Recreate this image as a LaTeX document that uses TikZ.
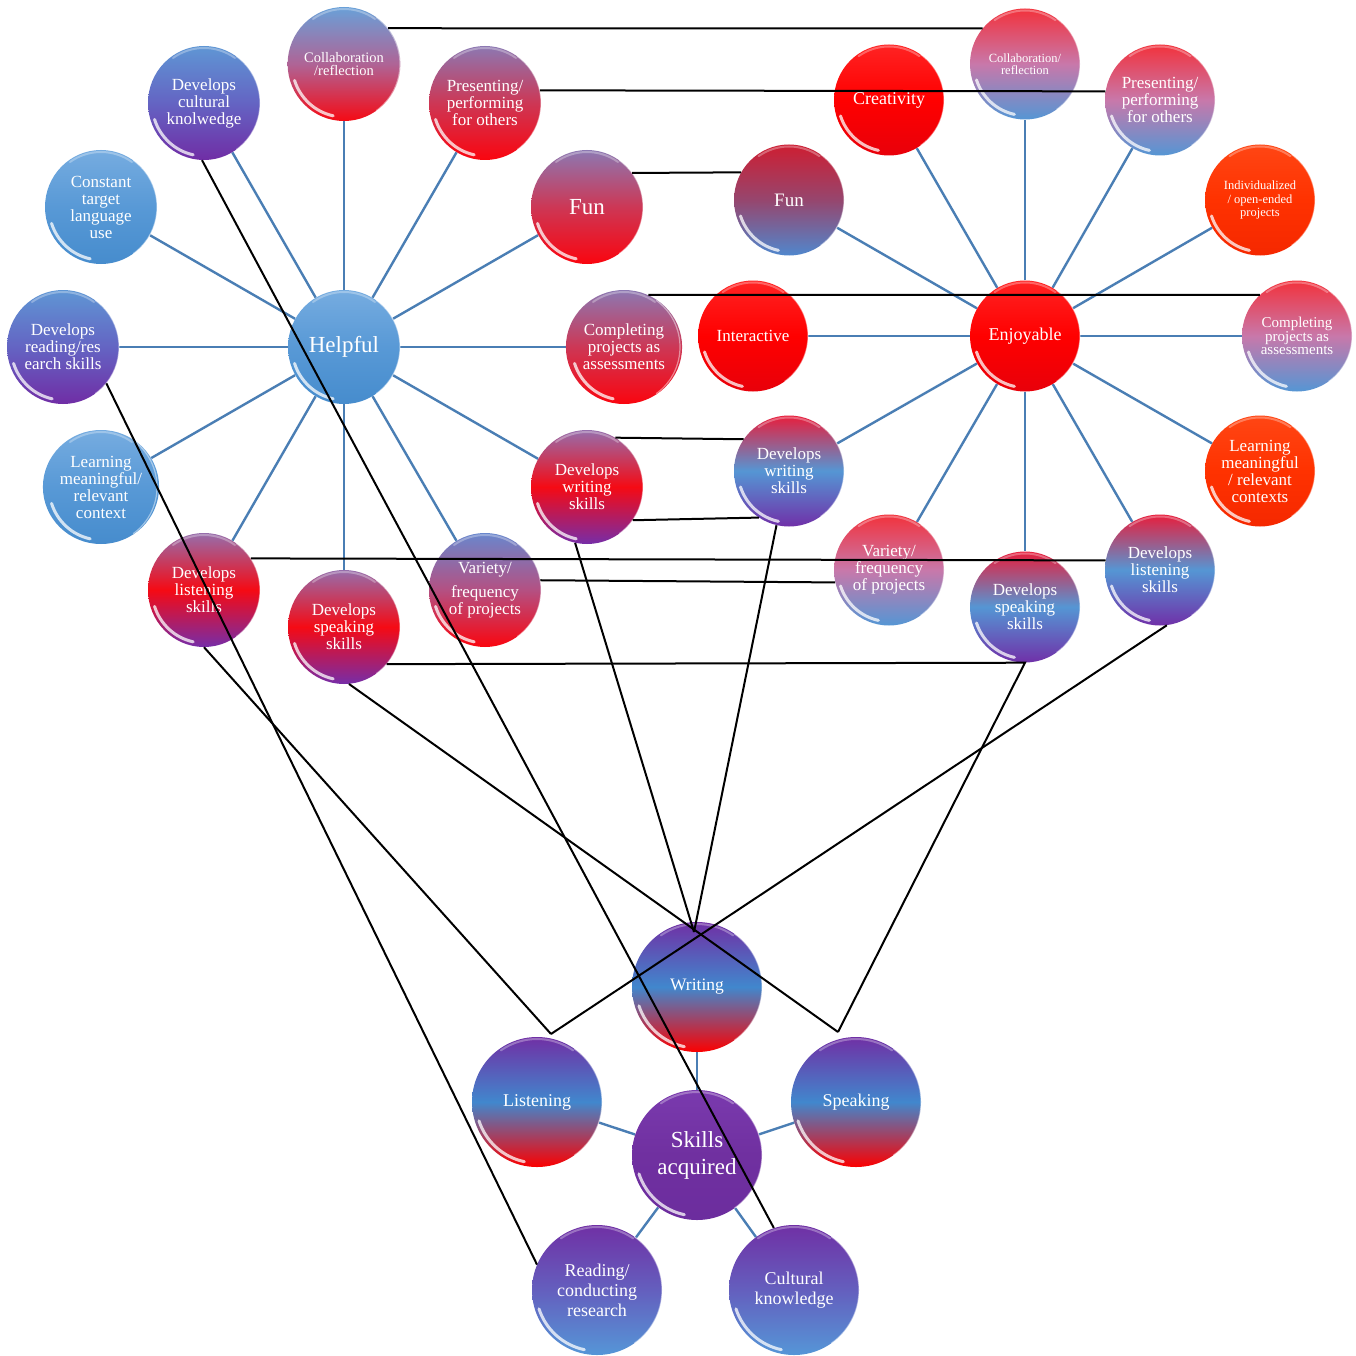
\documentclass[tikz,border=0pt]{standalone}
\usepackage{fontspec}
\setmainfont{Liberation Serif}
\usetikzlibrary{shapes.geometric,backgrounds,calc}
\definecolor{edgeblue}{RGB}{74,126,180}
\definecolor{bluT}{RGB}{118,172,224}\definecolor{bluM}{RGB}{88,153,214}\definecolor{bluB}{RGB}{70,140,205}
\definecolor{brT}{RGB}{105,160,216}\definecolor{brM}{RGB}{175,100,150}\definecolor{brB}{RGB}{245,10,20}
\definecolor{bpT}{RGB}{95,150,212}\definecolor{bpM}{RGB}{100,100,195}\definecolor{bpB}{RGB}{112,45,165}
\definecolor{mrT}{RGB}{140,120,178}\definecolor{mrM}{RGB}{205,55,85}\definecolor{mrB}{RGB}{250,5,15}
\definecolor{vrT}{RGB}{105,135,205}\definecolor{vrM}{RGB}{180,80,130}\definecolor{vrB}{RGB}{250,5,15}
\definecolor{mrpT}{RGB}{150,110,172}\definecolor{mrpM}{RGB}{245,10,20}\definecolor{mrpB}{RGB}{118,45,168}
\definecolor{redT}{RGB}{255,35,35}\definecolor{redM}{RGB}{255,0,0}\definecolor{redB}{RGB}{232,0,10}
\definecolor{orT}{RGB}{255,70,20}\definecolor{orM}{RGB}{255,50,0}\definecolor{orB}{RGB}{245,40,0}
\definecolor{rbT}{RGB}{242,50,60}\definecolor{rbM}{RGB}{200,120,170}\definecolor{rbB}{RGB}{85,150,212}
\definecolor{frT}{RGB}{205,30,50}\definecolor{frM}{RGB}{150,70,110}\definecolor{frB}{RGB}{80,135,205}
\definecolor{rbpT}{RGB}{232,30,60}\definecolor{rbpM}{RGB}{85,150,212}\definecolor{rbpB}{RGB}{112,48,168}
\definecolor{pbrT}{RGB}{112,48,165}\definecolor{pbrM}{RGB}{65,135,205}\definecolor{pbrB}{RGB}{252,0,0}
\definecolor{purT}{RGB}{122,58,174}\definecolor{purM}{RGB}{112,48,160}\definecolor{purB}{RGB}{108,45,158}
\definecolor{pbT}{RGB}{112,48,165}\definecolor{pbM}{RGB}{100,95,190}\definecolor{pbB}{RGB}{85,150,215}
\newcommand\myfs[2]{\fontsize{#1}{#2}\selectfont}
\begin{document}
\begin{tikzpicture}[x=1pt,y=1pt,
  bub/.style={ellipse, minimum width=112pt, minimum height=114pt, inner sep=0pt, align=center, text=white},
  rbub/.style={bub, minimum width=110pt, minimum height=111pt},
  bbub/.style={bub, minimum width=130pt, minimum height=130pt},
  gBlue/.style={top color=bluT, bottom color=bluB, middle color=bluM},
  gBR/.style={top color=brT, bottom color=brB, middle color=brM},
  gBP/.style={top color=bpT, bottom color=bpB, middle color=bpM},
  gMR/.style={top color=mrT, bottom color=mrB, middle color=mrM},
  gVR/.style={top color=vrT, bottom color=vrB, middle color=vrM},
  gMRP/.style={top color=mrpT, bottom color=mrpB, middle color=mrpM},
  gRed/.style={top color=redT, bottom color=redB, middle color=redM},
  gOr/.style={top color=orT, bottom color=orB, middle color=orM},
  gRB/.style={top color=rbT, bottom color=rbB, middle color=rbM},
  gFR/.style={top color=frT, bottom color=frB, middle color=frM},
  gRBP/.style={top color=rbpT, bottom color=rbpB, middle color=rbpM},
  gPBR/.style={top color=pbrT, bottom color=pbrB, middle color=pbrM},
  gPur/.style={top color=purT, bottom color=purB, middle color=purM},
  gPB/.style={top color=pbT, bottom color=pbB, middle color=pbM},
  edge/.style={draw=edgeblue, line width=2.4pt},
  blk/.style={draw=black, line width=2pt},
  gloss/.style={draw=white, line width=3pt, opacity=.75, line cap=round},
  rim/.style={draw=white, line width=1.2pt, opacity=.45},
  toprim/.style={draw=white, line width=2pt, opacity=.3, line cap=round},
  f17/.style={font=\myfs{17}{17}}
]
\useasboundingbox (0,0) rectangle (1355,-1356);
% ---------- left cluster ----------
\node[bub,gBlue,font=\myfs{23}{23}] (helpful) at (344,-347) {Helpful};
\node[bub,gBR,font=\myfs{14.5}{13}] (collabL) at (344,-64) {Collaboration\\/reflection};
\node[bub,gBP,f17] (cultL) at (204,-103) {Develops\\cultural\\knolwedge};
\node[bub,gMR,f17] (presL) at (485,-103) {Presenting/\\performing\\for others};
\node[bub,gBlue,f17] (constant) at (101,-207) {Constant\\target\\language\\use};
\node[bub,gMR,font=\myfs{23}{23}] (funL) at (587,-207) {Fun};
\node[bub,gBP,f17] (readL) at (63,-347) {Develops\\reading/res\\earch skills};
\node[bub,gMR,f17] (compL) at (624,-347) {Completing\\projects as\\assessments};
\node[bub,gBlue,f17] (learnL) at (101,-487) {Learning\\meaningful/\\relevant\\context};
\node[bub,gMRP,f17] (writeL) at (587,-487) {Develops\\writing\\skills};
\node[bub,gMRP,f17] (listenL) at (204,-590) {Develops\\listening\\skills};
\node[bub,gMRP,f17] (speakL) at (344,-627) {Develops\\speaking\\skills};
\node[bub,gVR,font=\myfs{17}{15}] (varL) at (485,-590) {Variety/\\[8pt]frequency\\of projects};
% ---------- right cluster ----------
\node[rbub,gRed,font=\myfs{18}{18}] (enjoy) at (1025,-336) {Enjoyable};
\node[rbub,gRB,font=\myfs{12.5}{12.5}] (collabR) at (1025,-64) {Collaboration/\\reflection};
\node[rbub,gRed,font=\myfs{18}{18}] (creat) at (889,-100) {Creativity};
\node[rbub,gRB,f17] (presR) at (1160,-100) {Presenting/\\performing\\for others};
\node[rbub,gFR,font=\myfs{19}{19}] (funR) at (789,-200) {Fun};
\node[rbub,gOr,font=\myfs{12.5}{13.5}] (indiv) at (1260,-200) {Individualized\\/ open-ended\\projects};
\node[rbub,gRed,font=\myfs{17}{17}] (inter) at (753,-336) {Interactive};
\node[rbub,gRB,font=\myfs{15}{13.5}] (compR) at (1297,-336) {Completing\\projects as\\assessments};
\node[rbub,gRBP,f17] (writeR) at (789,-471) {Develops\\writing\\skills};
\node[rbub,gOr,f17] (learnR) at (1260,-471) {Learning\\meaningful\\/ relevant\\contexts};
\node[rbub,gRB,f17] (varR) at (889,-570) {Variety/\\frequency\\of projects};
\node[rbub,gRBP,f17] (speakR) at (1025,-607) {Develops\\speaking\\skills};
\node[rbub,gRBP,f17] (listenR) at (1160,-570) {Develops\\listening\\skills};
% ---------- bottom cluster ----------
\node[bbub,gPBR,font=\myfs{17.5}{17.5}] (writing) at (697,-987) {Writing};
\node[bbub,gPBR,font=\myfs{18}{18}] (listening) at (537,-1102) {Listening};
\node[bbub,gPBR,font=\myfs{18}{18}] (speaking) at (856,-1102) {Speaking};
\node[bbub,gPur,font=\myfs{23}{27}] (skills) at (697,-1155) {Skills\\acquired};
\node[bbub,gPB,font=\myfs{18}{20}] (readB) at (597,-1290) {Reading/\\conducting\\research};
\node[bbub,gPB,font=\myfs{18}{20}] (cultB) at (794,-1290) {Cultural\\knowledge};
% join points of black connectors
\coordinate (wrtjoin) at (694,-932);
\coordinate (lsnjoin) at (551,-1034);
\coordinate (spkjoin) at (838,-1032);
% ---------- blue spokes (behind) ----------
\begin{pgfonlayer}{background}
\fill[white] (0,0) rectangle (1355,-1356);
\foreach \t in {collabL,cultL,presL,constant,funL,readL,compL,learnL,writeL,listenL,speakL,varL}
  \draw[edge] (helpful) -- (\t);
\foreach \t in {collabR,creat,presR,funR,indiv,inter,compR,writeR,learnR,varR,speakR,listenR}
  \draw[edge] (enjoy) -- (\t);
\foreach \t in {writing,listening,speaking,readB,cultB}
  \draw[edge] (skills) -- (\t);
\end{pgfonlayer}
% ---------- gloss ----------
\foreach \n/\a/\b in {helpful/56/57,collabL/56/57,cultL/56/57,presL/56/57,constant/56/57,funL/56/57,readL/56/57,compL/56/57,learnL/56/57,writeL/56/57,listenL/56/57,speakL/56/57,varL/56/57,
  enjoy/55/55.5,collabR/55/55.5,creat/55/55.5,presR/55/55.5,funR/55/55.5,indiv/55/55.5,inter/55/55.5,compR/55/55.5,writeR/55/55.5,learnR/55/55.5,varR/55/55.5,speakR/55/55.5,listenR/55/55.5,
  writing/65/65,listening/65/65,speaking/65/65,skills/65/65,readB/65/65,cultB/65/65}{
  \pgfmathsetmacro\ga{\a-4}\pgfmathsetmacro\gb{\b-4}
  \pgfmathsetmacro\ta{\a-2}\pgfmathsetmacro\tb{\b-2}
  \draw[toprim] ([shift={(55:\ta pt and \tb pt)}]\n.center) arc[start angle=55,end angle=125,x radius=\ta pt,y radius=\tb pt];
  \draw[gloss] ([shift={(198:\ga pt and \gb pt)}]\n.center) arc[start angle=198,end angle=258,x radius=\ga pt,y radius=\gb pt];
  \draw[rim] ([shift={(-55:\a pt and \b pt)}]\n.center) arc[start angle=-55,end angle=55,x radius=\a pt,y radius=\b pt];
}
% ---------- black connectors ----------
\draw[blk] (collabL.39) -- (collabR.140);
\draw[blk] (presL.13) -- (presR.171);
\draw[blk] (funL.37) -- (funR.150);
\draw[blk] (compL.65) -- (compR.132);
\draw[blk] (writeL.60) -- (writeR.145);
\draw[blk] (writeL.-36) -- (writeR.237);
\draw[blk] (listenL.34) -- (listenR.170);
\draw[blk] (varL.10) -- (varR.193);
\draw[blk] (speakL.-41) -- (speakR.south) -- (spkjoin);
\draw[blk] (speakL.-85) -- (spkjoin);
\draw[blk] (listenL.south) -- (lsnjoin);
\draw[blk] (listenR.-83) -- (lsnjoin);
\draw[blk] (writeL.-102) -- (wrtjoin);
\draw[blk] (writeR.-103) -- (wrtjoin);
\draw[blk] (readL.-40) -- (readB.157);
\draw[blk] (cultL.-92) -- (cultB.108);
\end{tikzpicture}
\end{document}
